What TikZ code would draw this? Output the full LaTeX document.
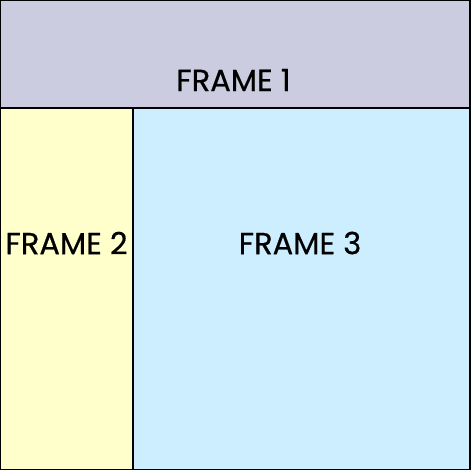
\documentclass[tikz,border=0pt]{standalone}
\usepackage{fontspec}
\setmainfont[FakeBold=0.6]{Poppins}
\definecolor{lavender}{RGB}{204,204,224}
\definecolor{paleyellow}{RGB}{255,255,204}
\definecolor{paleblue}{RGB}{204,238,255}
\begin{document}
\begin{tikzpicture}[x=1pt,y=-1pt,line join=round,font=\fontsize{30.5}{36}\selectfont,label/.style={inner sep=0pt,anchor=center}]
			\path
			(0,0) coordinate (A)
			(470,0) coordinate (B)
			(470,108) coordinate (C)
			(0,108) coordinate (D)
			(133,108) coordinate (E)
			(133,470) coordinate (F)
			(0,470) coordinate (G)
			(470,470) coordinate (H)
			;
			\useasboundingbox (A) rectangle (H);
			\fill[lavender] (A) rectangle (C);
			\fill[paleyellow] (D) rectangle (F);
			\fill[paleblue] (E) rectangle (H);
			\draw[line width=1.5pt] (A)--(B)--(H)--(G)--cycle (D)--(C) (E)--(F);
			\node[label] (f1) at (233.5,80) {FRAME 1};
			\node[label] (f2) at (66.5,243) {FRAME 2};
			\node[label] (f3) at (300,243) {FRAME 3};
		\end{tikzpicture}
\end{document}
